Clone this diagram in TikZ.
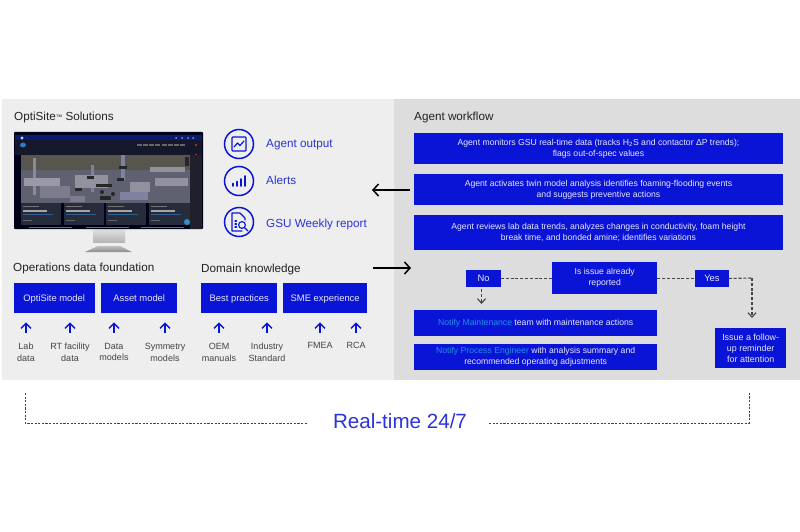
\documentclass[tikz,border=0pt]{standalone}
\usepackage{fontspec}
\setmainfont{Liberation Sans}
\usetikzlibrary{arrows.meta,calc}
\definecolor{brand}{HTML}{0A14D6}
\definecolor{inkblue}{HTML}{2A34D8}
\definecolor{sky}{HTML}{1E8FE8}
\definecolor{paneA}{HTML}{EEEEEE}
\definecolor{paneB}{HTML}{DDDDDD}
\definecolor{ink}{HTML}{222222}
\definecolor{dash}{HTML}{444444}
% monitor screen palette
\definecolor{scrBar}{HTML}{0A1A70}
\definecolor{scrNav}{HTML}{15172A}
\definecolor{scrLogo}{HTML}{2F7FC0}
\definecolor{scrRed}{HTML}{C04030}
\definecolor{scrSky}{HTML}{56564F}
\definecolor{scrGround}{HTML}{5F6070}
\definecolor{scrRail}{HTML}{20202C}
\definecolor{scrA}{HTML}{8A8A98}
\definecolor{scrB}{HTML}{7E82A0}
\definecolor{scrC}{HTML}{92929E}
\definecolor{scrD}{HTML}{9A9AA6}
\definecolor{scrE}{HTML}{7C7C8C}
\definecolor{scrCard}{HTML}{272C3C}
\definecolor{scrLine}{HTML}{2D5F90}
\definecolor{scrTeal}{HTML}{1C8AA8}
\definecolor{scrDot}{HTML}{2F8FC8}
\tikzset{
  x=1pt, y=-1pt,
  heading/.style={anchor=base west, font=\fontsize{11.7}{13}\selectfont, text=ink, inner sep=0pt},
  outlabel/.style={anchor=base west, font=\fontsize{11.7}{14}\selectfont, text=inkblue, inner sep=0pt},
  bluebox/.style={anchor=north west, fill=brand, text=white!90!brand, inner sep=0pt, align=center,
    font=\fontsize{8.65}{11}\selectfont},
  tagbox/.style={bluebox, font=\fontsize{9.4}{11}\selectfont, text height=8.5pt, text depth=2pt},
  srclabel/.style={anchor=north, inner sep=0pt, align=center, text=ink!85,
    font=\fontsize{9}{11.6}\selectfont, execute at begin node={\rule{0pt}{8pt}}},
  feed/.style={draw=brand, line width=1.4pt, -{Straight Barb[length=5pt,width=10pt]}},
  bigarrow/.style={draw=black, line width=1.5pt, -{Straight Barb[length=5.5pt,width=12pt]}},
  flow/.style={draw=dash, line width=1.1pt, dash pattern=on 3pt off 1.8pt},
  flowtip/.style={flow, -{Straight Barb[length=4.5pt,width=8pt]}},
  span/.style={draw=dash, line width=1pt, dash pattern=on 2.2pt off 1.4pt},
  ring/.style={circle, draw=brand, line width=1.5pt, minimum size=29pt, inner sep=0pt},
  glyph/.style={draw=brand, line width=1.2pt, line join=round, line cap=round},
}
\begin{document}
\begin{tikzpicture}
\useasboundingbox (0,0) rectangle (800,532);
\fill[white] (0,0) rectangle (800,532);

% panels
\fill[paneA] (2,99) rectangle (394,380);
\fill[paneB] (394,99) rectangle (800,380);

\node[heading] (tSolutions) at (14,121) {OptiSite{\fontsize{6.5}{7}\selectfont\raisebox{1pt}{™}} Solutions};
\node[heading] (tWorkflow) at (414,121) {Agent workflow};
\node[heading] (tData) at (13,271) {Operations data foundation};
\node[heading] (tDomain) at (201,272) {Domain knowledge};

% monitor stand
\shade[top color=black!12, bottom color=black!30] (93,229) rectangle (125,243);
\fill[paneA] (93,243) rectangle (125,246);
\shade[top color=black!25, bottom color=black!45] (98,246) -- (120,246) -- (132,252) -- (85,252) -- cycle;
% monitor
\fill[black!90!blue, rounded corners=0.8pt] (14,132) rectangle (203,229);
\fill[scrBar] (15,135) rectangle (202,140);
\fill[scrNav] (15,140) rectangle (202,155);
\fill[white!80!blue] (22,138) circle (1.6);
\fill[scrLogo] (23,145) ellipse (3 and 2.4);
\foreach \px in {137,143,149,155,162,168,174,180}
  \fill[white!40!black] (\px,144.4) rectangle +(5,1.2);
\foreach \px in {176,182,188,193}
  \fill[white!55!blue] (\px,138) circle (1);
\fill[scrRed] (196,145) circle (1.2);
\fill[scrRed] (196,155) circle (1.2);
% plant view
\fill[scrSky] (21,155) rectangle (190,170);
\fill[scrGround] (21,170) rectangle (190,203);
\fill[scrRail] (190,155) rectangle (202,229);
\fill[scrA] (33,158) rectangle (36,195);
\fill[scrB] (91,165) rectangle (94,192);
\fill[scrB] (121,155) rectangle (125,180);
\fill[scrC] (75,175) rectangle (108,188);
\fill[scrC] (130,182) rectangle (150,192);
\fill[scrC] (150,167) rectangle (185,172);
\fill[scrD] (24,178) rectangle (60,186);
\fill[scrE] (40,186) rectangle (70,198);
\fill[scrB] (120,192) rectangle (148,200);
\fill[scrE] (70,196) rectangle (85,202);
\fill[scrC] (155,178) rectangle (188,186);
\fill[black!85] (119,166) rectangle +(8,3);
\fill[black!85] (87,176) rectangle +(7,3);
\fill[black!85] (117,178) rectangle +(7,3);
\fill[black!85] (96,184) rectangle +(16,3);
\fill[black!85] (75,188) rectangle +(7,3);
\fill[black!85] (100,196) rectangle +(11,4);
\fill[black!85] (102,192) circle (2);
\fill[black!85] (113,194) circle (2);
\fill[black!85] (185,157) rectangle +(4,9);
% status cards
\foreach \cx/\cw in {21/40,64/40,106/40,149/41}{
  \fill[scrCard] (\cx,203) rectangle +(\cw,22);
  \fill[white!45!black] (\cx+2,206) rectangle +(16,1);
  \fill[white!65!black] (\cx+2,209.5) rectangle +(24,2);
  \fill[scrLine] (\cx+2,213.5) rectangle +(30,1);
  \fill[white!40!black] (\cx+2,219.5) rectangle +(9,1);
}
\foreach \cx in {29,86,141}
  \fill[scrTeal] (\cx,226.5) rectangle +(43,1.8);
\fill[scrDot] (187,222) circle (3);

% output icons
\node[ring] (icoOut) at (239,144) {};
\node[ring] (icoAlert) at (239,181) {};
\node[ring] (icoReport) at (239,222) {};
\draw[glyph, rounded corners=0.8pt] ($(icoOut)+(-7,-7)$) rectangle ($(icoOut)+(7,7)$);
\draw[glyph] ($(icoOut)+(-5,3)$) -- ($(icoOut)+(-1.5,-1)$) -- ($(icoOut)+(1,1.5)$) -- ($(icoOut)+(5,-3)$);
\foreach \bx/\bh in {-6/2.5,-2/4.5,2/7,6/10}
  \draw[glyph, line width=1.7pt] ($(icoAlert)+(\bx,5)$) -- ($(icoAlert)+(\bx,5-\bh)$);
\draw[glyph, line width=1.1pt] ($(icoReport)+(3,9)$) -- ($(icoReport)+(-7,9)$) -- ($(icoReport)+(-7,-9)$) -- ($(icoReport)+(1,-9)$) -- ($(icoReport)+(6,-4)$) -- ($(icoReport)+(6,-2)$);
\draw[glyph, line width=1.1pt] ($(icoReport)+(-4,-1)$) -- ($(icoReport)+(-2.5,-1)$);
\draw[glyph, line width=1.1pt] ($(icoReport)+(-4,2)$) -- ($(icoReport)+(-2.5,2)$);
\draw[glyph, line width=1.1pt] ($(icoReport)+(-4,5)$) -- ($(icoReport)+(-2.5,5)$);
\draw[glyph, line width=1.1pt] ($(icoReport)+(3,3)$) circle (3.4);
\draw[glyph, line width=1.4pt] ($(icoReport)+(5.6,5.6)$) -- ($(icoReport)+(9,9)$);

\node[outlabel] (lblOut) at (266,147.5) {Agent output};
\node[outlabel] (lblAlert) at (266,184.5) {Alerts};
\node[outlabel] (lblReport) at (266,227) {GSU Weekly report};

% model and knowledge boxes
\node[tagbox, minimum width=81pt, minimum height=30pt] (mOpti) at (13.5,283) {OptiSite model};
\node[tagbox, minimum width=76pt, minimum height=30pt] (mAsset) at (101,283) {Asset model};
\node[tagbox, minimum width=76pt, minimum height=30pt] (mBest) at (201,283) {Best practices};
\node[tagbox, minimum width=84pt, minimum height=30pt] (mSme) at (283,283) {SME experience};

\node[srclabel] (sLab) at (26,343) {Lab\\data};
\node[srclabel] (sRt) at (70,343) {RT facility\\data};
\node[srclabel] (sModels) at (114,343) {Data\\models};
\node[srclabel] (sSym) at (165,343) {Symmetry\\models};
\node[srclabel] (sOem) at (219,343) {OEM\\manuals};
\node[srclabel] (sInd) at (267,343) {Industry\\Standard};
\node[srclabel] (sFmea) at (320,340.5) {FMEA};
\node[srclabel] (sRca) at (356,340.5) {RCA};

\coordinate (feedFoot) at (0,333);
\foreach \src/\dst in {sLab/mOpti,sRt/mOpti,sModels/mAsset,sSym/mAsset,sOem/mBest,sInd/mBest,sFmea/mSme,sRca/mSme}
  \draw[feed, shorten >=9pt] (\src.north |- feedFoot) -- (\src.north |- \dst.south);

% workflow steps
\node[bluebox, minimum width=369.5pt, minimum height=31.5pt] (wMon) at (413.5,132.7)
  {Agent monitors GSU real-time data (tracks H\textsubscript{2}S and contactor ΔP trends);\\flags out-of-spec values};
\node[bluebox, minimum width=369.5pt, minimum height=31.5pt] (wTwin) at (413.5,173.7)
  {Agent activates twin model analysis identifies foaming-flooding events\\and suggests preventive actions};
\node[bluebox, minimum width=369.5pt, minimum height=35.5pt] (wLab) at (413.5,214.3)
  {Agent reviews lab data trends, analyzes changes in conductivity, foam height\\break time, and bonded amine; identifies variations};

% decision row
\node[bluebox, minimum width=105pt, minimum height=32pt] (dIssue) at (552,262) {Is issue already\\reported};
\node[tagbox, minimum width=35pt, minimum height=16.5pt] (dNo) at (466,270) {No};
\node[tagbox, minimum width=33.5pt, minimum height=16.5pt] (dYes) at (695,270) {Yes};

% outcomes
\node[bluebox, minimum width=243.5pt, minimum height=25.5pt] (oMaint) at (413.7,310)
  {\textcolor{sky}{Notify Maintenance} team with maintenance actions};
\node[bluebox, minimum width=243.5pt, minimum height=25.5pt] (oProc) at (413.7,344)
  {\textcolor{sky}{Notify Process Engineer} with analysis summary and\\recommended operating adjustments};
\node[bluebox, font=\fontsize{8.9}{11}\selectfont, minimum width=71pt, minimum height=40pt] (oRemind) at (715,328)
  {Issue a follow-\\up reminder\\for attention};

\draw[flow] (dIssue.west |- dNo.east) -- (dNo.east);
\draw[flow] (dIssue.east |- dYes.west) -- (dYes.west);
\coordinate (elbowYes) at (752,278);
\coordinate (tipYes) at (752,318);
\coordinate (tipNo) at (481.5,304);
\draw[flow] (dYes.east) -- (elbowYes);
\draw[flowtip] (elbowYes) -- (tipYes);
\draw[flowtip] (tipNo |- dNo.south) ++(0,2) -- (tipNo);

% links between the panels
\coordinate (arrOutL) at (372,190);
\coordinate (arrOutR) at (410,190);
\coordinate (arrInL) at (373,268);
\coordinate (arrInR) at (411,268);
\draw[bigarrow] (arrOutR) -- (arrOutL);
\draw[bigarrow] (arrInL) -- (arrInR);

% real-time span
\node[inner sep=0pt, font=\fontsize{20.6}{24}\selectfont, text=inkblue] (rt) at (400,421) {Real-time 24/7};
\coordinate (spanLtop) at (25,393);
\coordinate (spanL) at (25,423);
\coordinate (spanLend) at (307,423);
\coordinate (spanRstart) at (489,423);
\coordinate (spanR) at (749,423);
\coordinate (spanRtop) at (749,393);
\draw[span] (spanLtop) -- (spanL) -- (spanLend);
\draw[span] (spanRstart) -- (spanR) -- (spanRtop);
\end{tikzpicture}
\end{document}
